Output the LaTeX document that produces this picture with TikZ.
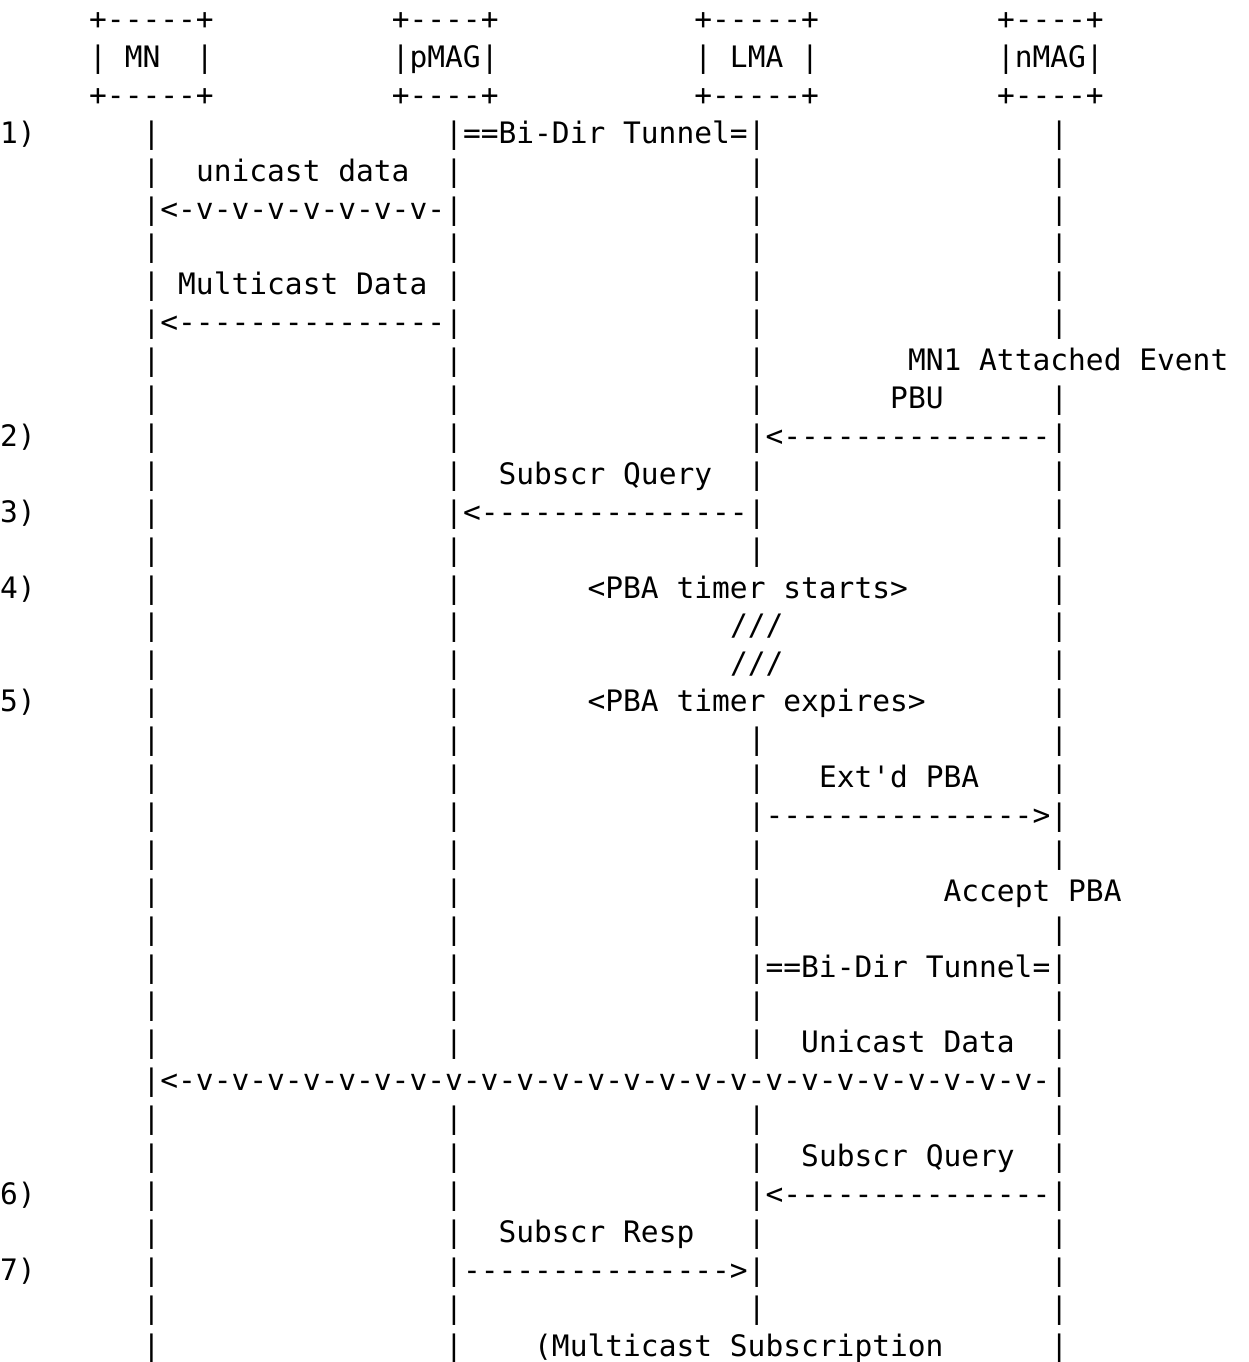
\documentclass[tikz,border=0pt]{standalone}
\usepackage{fontspec}
\newfontfamily\asciifont{DejaVu Sans Mono}
\def\dd{-----}
\def\vv{-v-v-v-v}
\newcommand\txt[4]{\node[ch] (#1) at ({0.2+17.8*(#3)},{29.5+37.9*(#2)}) {#4};}
\begin{document}
\begin{tikzpicture}[x=0.5pt,y=-0.5pt,
  ch/.style={anchor=base west,inner sep=0pt,outer sep=0pt,
    font=\asciifont\fontsize{14.78pt}{18pt}\selectfont}]
\useasboundingbox (0,0) rectangle (1249,1362);
% entity boxes
\txt{mnT}{0}{5}{+-----+}   \txt{pmT}{0}{22}{+----+}
\txt{lmT}{0}{39}{+-----+}  \txt{nmT}{0}{56}{+----+}
\txt{mnL}{1}{5}{|~MN~~|}   \txt{pmL}{1}{22}{|pMAG|}
\txt{lmL}{1}{39}{|~LMA~|}  \txt{nmL}{1}{56}{|nMAG|}
\txt{mnB}{2}{5}{+-----+}   \txt{pmB}{2}{22}{+----+}
\txt{lmB}{2}{39}{+-----+}  \txt{nmB}{2}{56}{+----+}
% lifelines
\foreach \r in {3,...,35} {\txt{mn\r}{\r}{8}{|}}
\foreach \r in {3,...,27,29,30,31,32,33,34,35} {\txt{pm\r}{\r}{25}{|}}
\foreach \r in {3,...,14,19,20,...,27,29,30,31,32,33,34} {\txt{lm\r}{\r}{42}{|}}
\foreach \r in {3,...,8,10,11,...,22,24,25,...,35} {\txt{nm\r}{\r}{59}{|}}
% step numbers
\txt{s1}{3}{0}{1)}  \txt{s2}{11}{0}{2)} \txt{s3}{13}{0}{3)}
\txt{s4}{15}{0}{4)} \txt{s5}{18}{0}{5)} \txt{s6}{31}{0}{6)}
\txt{s7}{33}{0}{7)}
% messages
\txt{tun1}{3}{26}{==Bi-Dir~Tunnel=}
\txt{uni1}{4}{11}{unicast~data}
\txt{uni1a}{5}{9}{<-v-v-v-v-v-v-v-}
\txt{mc}{7}{10}{Multicast~Data}
\txt{mca}{8}{9}{<\dd\dd\dd}
\txt{att}{9}{51}{MN1~Attached~Event}
\txt{pbu}{10}{50}{PBU}
\txt{pbua}{11}{43}{<\dd\dd\dd}
\txt{sq1}{12}{28}{Subscr~Query}
\txt{sq1a}{13}{26}{<\dd\dd\dd}
\txt{tst}{15}{33}{<PBA~timer~starts>}
\txt{sl1}{16}{41}{///}
\txt{sl2}{17}{41}{///}
\txt{tex}{18}{33}{<PBA~timer~expires>}
\txt{epba}{20}{46}{Ext'd~PBA}
\txt{epbaa}{21}{43}{\dd\dd\dd>}
\txt{acc}{23}{53}{Accept~PBA}
\txt{tun2}{25}{43}{==Bi-Dir~Tunnel=}
\txt{uni2}{27}{45}{Unicast~Data}
\txt{uni2a}{28}{9}{<\vv\vv\vv\vv\vv\vv-}
\txt{sq2}{30}{45}{Subscr~Query}
\txt{sq2a}{31}{43}{<\dd\dd\dd}
\txt{sr}{32}{28}{Subscr~Resp}
\txt{sra}{33}{26}{\dd\dd\dd>}
\txt{msub}{35}{30}{(Multicast~Subscription}
\end{tikzpicture}
\end{document}
